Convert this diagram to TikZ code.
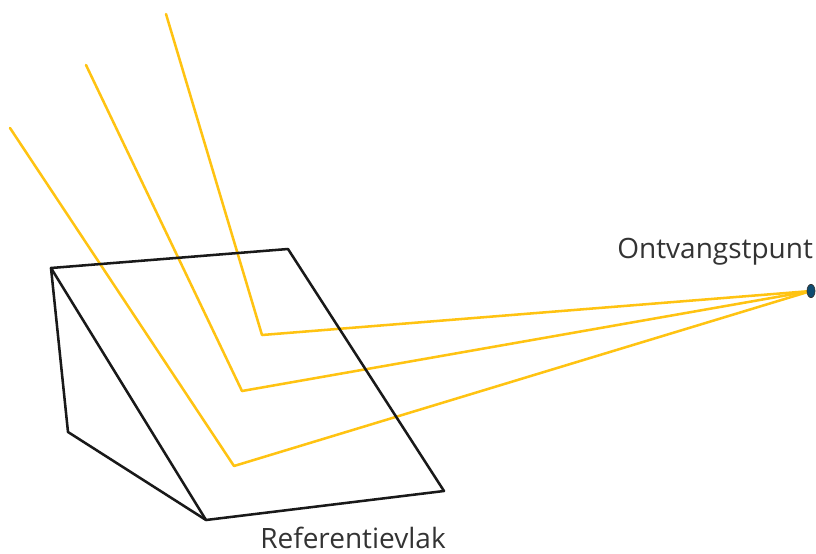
\documentclass[tikz,border=0pt]{standalone}
\usepackage{fontspec}
\setmainfont[Ligatures=NoCommon]{Open Sans}
\usetikzlibrary{shapes.geometric,backgrounds}
\definecolor{rayc}{HTML}{FFC312}
\definecolor{dotc}{HTML}{0F4C71}
\tikzset{
  px/.style={x=0.75pt,y=-0.75pt},
  edge/.style={draw=black!90,line width=1.9pt,line join=round,line cap=round},
  ray/.style={draw=rayc,line width=1.9pt,line join=round,line cap=round},
  lab/.style={text=black!80,font=\fontsize{21}{24}\selectfont,inner sep=0pt,anchor=base west},
  dot/.style={draw=black!80,fill=dotc,line width=.5pt,ellipse,minimum width=6pt,minimum height=10pt,inner sep=0pt},
}
\begin{document}
\begin{tikzpicture}[px]
\useasboundingbox (0,0) rectangle (816,553);
\coordinate (a) at (51,268);
\coordinate (b) at (288,249);
\coordinate (c) at (444,491);
\coordinate (d) at (206,520);
\coordinate (e) at (68,432);
\coordinate (s1) at (166,14);
\coordinate (s2) at (86,65);
\coordinate (s3) at (10,128);
\coordinate (k1) at (262,335);
\coordinate (k2) at (242,391);
\coordinate (k3) at (234,466);
\draw[edge] (a) -- (b) -- (c) -- (d) -- cycle;
\draw[edge] (a) -- (e) -- (d);
\node[dot] (p) at (811,291) {};
\begin{scope}[on background layer]
\draw[ray] (s1) -- (k1) -- (p.center);
\draw[ray] (s2) -- (k2) -- (p.center);
\draw[ray] (s3) -- (k3) -- (p.center);
\end{scope}
\node[lab] (t1) at (617,258) {Ontvangstpunt};
\node[lab] (t2) at (260,548) {Referentievlak};
\end{tikzpicture}
\end{document}
